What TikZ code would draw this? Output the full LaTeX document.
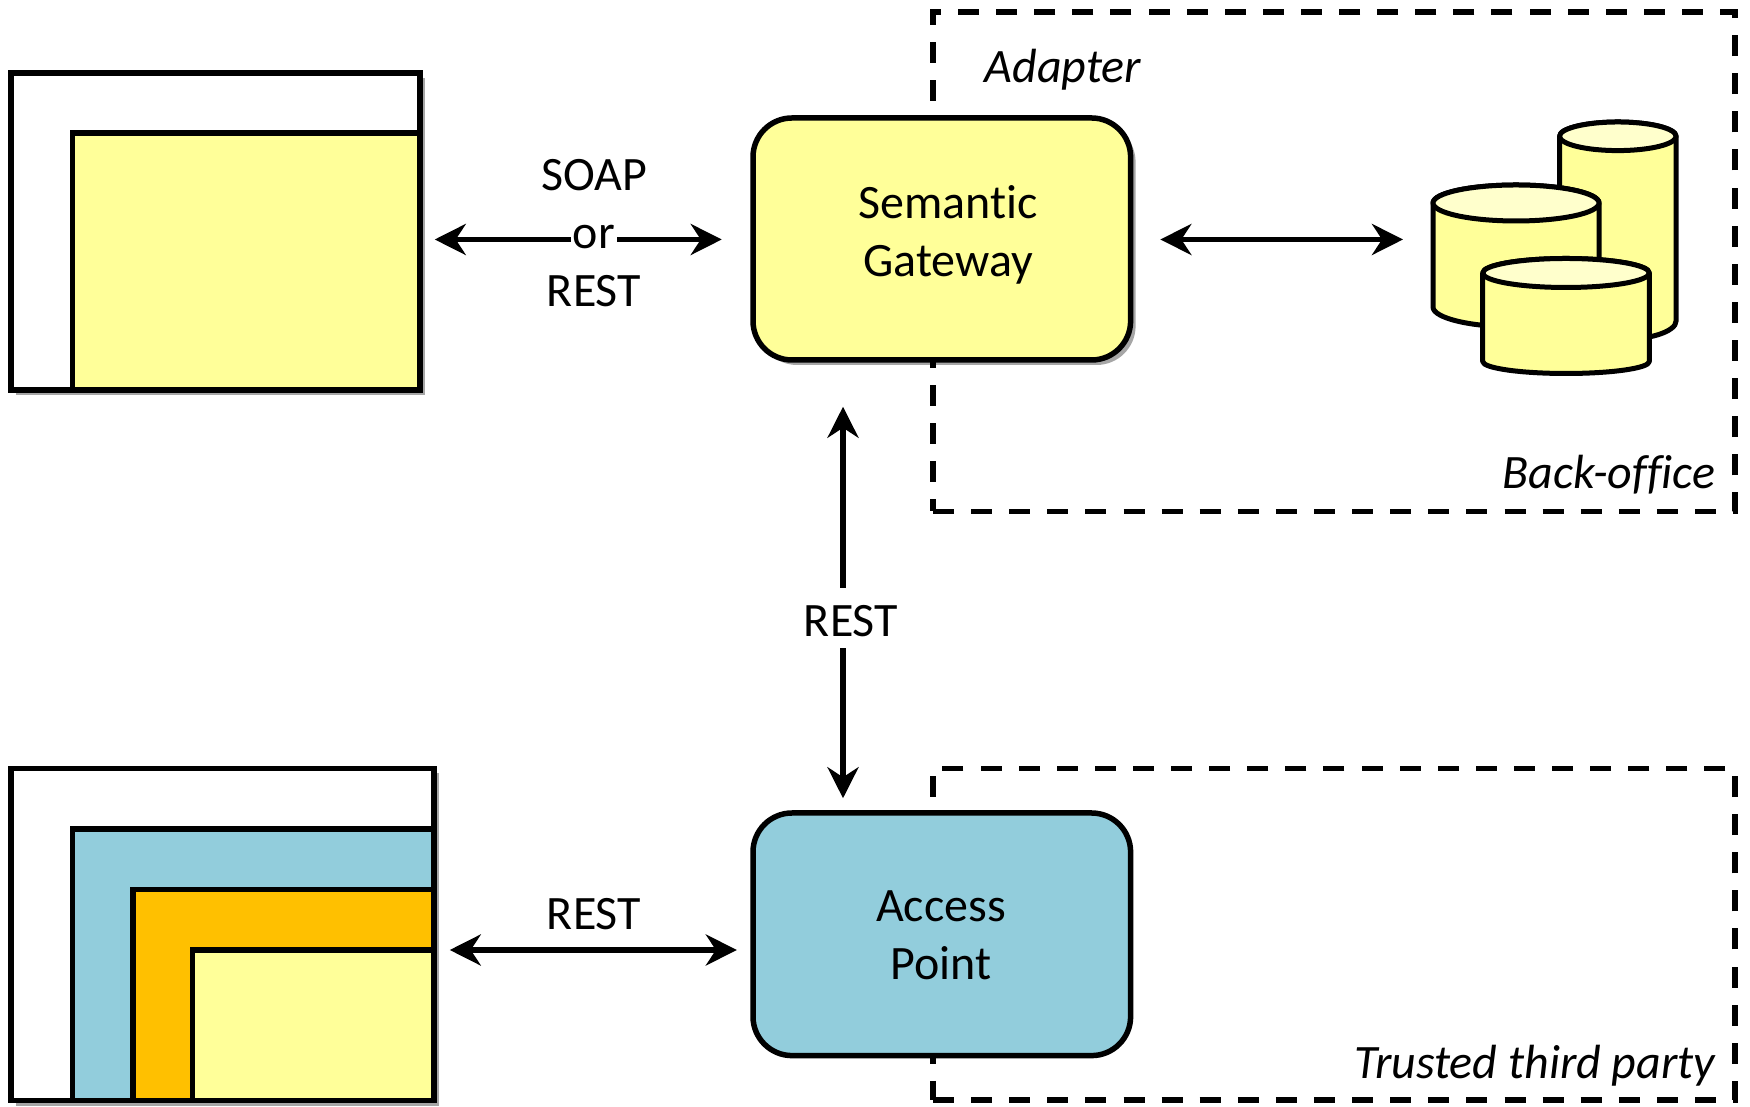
\documentclass[tikz,border=0pt]{standalone}
\usepackage{fontspec}
\setmainfont{Carlito}[Ligatures=NoCommon]
\usetikzlibrary{arrows.meta,shadows}
\definecolor{paleyellow}{HTML}{FFFF99}
\definecolor{lightyellow}{HTML}{FFFFCC}
\definecolor{paleblue}{HTML}{92CDDC}
\definecolor{amber}{HTML}{FFC000}
\tikzset{
  txt/.style={font=\fontsize{13.65}{16.5}\selectfont, align=center, inner sep=0pt},
  note/.style={font=\fontsize{13.65}{16.5}\selectfont\itshape, inner sep=0pt},
  winbox/.style={draw, line width=0.055cm, fill=#1, inner sep=0pt},
  softshadow/.style={drop shadow={shadow xshift=0.05cm, shadow yshift=-0.05cm, opacity=0.35, fill=black}},
  gatebox/.style={draw, line width=0.055cm, fill=#1, rounded corners=0.39cm, minimum width=3.776cm, minimum height=2.42cm},
  dashbox/.style={line width=0.055cm, dash pattern=on 0.21cm off 0.171cm},
  biarrow/.style={line width=0.055cm, {Stealth[length=0.31cm,width=0.31cm,inset=0.1cm]}-{Stealth[length=0.31cm,width=0.31cm,inset=0.1cm]}},
  dbline/.style={line width=0.05cm, line join=round}
}
% centre x, y of top ellipse, half width, top radius, y of wall end, bottom radius
\newcommand{\drum}[6]{
  \draw[dbline, fill=paleyellow] (#1-#3, #2) -- (#1-#3, #5) arc[start angle=180, end angle=360, x radius=#3, y radius=#6] -- (#1+#3, #2) arc[start angle=0, end angle=180, x radius=#3, y radius=#4] -- cycle;
  \draw[dbline, fill=lightyellow] (#1, #2) ellipse [x radius=#3, y radius=#4];
}
\begin{document}
\begin{tikzpicture}
\useasboundingbox (0,0) rectangle (17.5,11.06);

% Dashed zones, behind the boxes
\draw[dashbox] (9.33, 5.945) -- (17.35, 5.945) -- (17.35, 10.94) -- (9.33, 10.94) -- cycle;
\draw[dashbox] (9.33, 0.06) -- (17.35, 0.06) -- (17.35, 3.375) -- (9.33, 3.375) -- cycle;

% Top window
\node[winbox=white, softshadow, minimum width=4.09cm, minimum height=3.17cm] (clientwin) at (2.155, 8.745) {};
\node[winbox=paleyellow, minimum width=3.475cm, minimum height=2.57cm, anchor=south east] (clientpane) at (clientwin.south east) {};

% Bottom window
\node[winbox=white, softshadow, minimum width=4.23cm, minimum height=3.32cm] (portalwin) at (2.225, 1.715) {};
\node[winbox=paleblue, minimum width=3.615cm, minimum height=2.715cm, anchor=south east] (portalblue) at (portalwin.south east) {};
\node[winbox=amber, minimum width=3.01cm, minimum height=2.11cm, anchor=south east] (portalamber) at (portalwin.south east) {};
\node[winbox=paleyellow, minimum width=2.415cm, minimum height=1.505cm, anchor=south east] (portalyellow) at (portalwin.south east) {};

% Main boxes
\node[gatebox=paleyellow, softshadow] (gateway) at (9.418, 8.67) {};
\node[txt] (gatewaytxt) at (9.48, 8.71) {Semantic\\Gateway};
\node[gatebox=paleblue, minimum height=2.426cm] (access) at (9.418, 1.717) {};
\node[txt] (accesstxt) at (9.41, 1.71) {Access\\Point};

% Databases
\drum{16.178}{9.697}{0.5825}{0.143}{7.85}{0.19}
\drum{15.16}{9.03}{0.83}{0.18}{7.99}{0.2}
\drum{15.66}{8.33}{0.833}{0.145}{7.445}{0.12}
\coordinate (dbleft) at (14.33, 8.67);

% Arrows
\coordinate (restx) at (8.43, 5);
\coordinate (gatewayrow) at (5.94, 8.665);
\coordinate (accessrow) at (5.94, 1.56);
\draw[biarrow, shorten <=0.12cm, shorten >=0.285cm] (clientwin.east |- gatewayrow) -- (gateway.west |- gatewayrow);
\draw[biarrow, shorten <=0.27cm, shorten >=0.30cm] (gateway.east |- gatewayrow) -- (dbleft |- gatewayrow);
\draw[biarrow, shorten <=0.44cm, shorten >=0.12cm] (restx |- gateway.south) -- (restx |- access.north);
\draw[biarrow, shorten <=0.13cm, shorten >=0.134cm] (portalyellow.east |- accessrow) -- (access.west |- accessrow);

% Arrow labels
\node[txt, anchor=base] (soap) at (5.94, 9.15) {SOAP};
\node[txt, anchor=base, fill=white, minimum width=0.46cm] (orword) at (5.94, 8.575) {or};
\node[txt, anchor=base] (resttop) at (5.94, 7.99) {REST};
\node[txt, anchor=base, fill=white, text height=0.49cm, text depth=0.115cm] (restmid) at (8.51, 4.69) {REST};
\node[txt, anchor=base] (restlow) at (5.94, 1.76) {REST};

% Zone names
\node[note, anchor=base west] (adapter) at (9.84, 10.23) {Adapter};
\node[note, anchor=base east] (backoffice) at (17.16, 6.175) {Back-office};
\node[note, anchor=base east] (trusted) at (17.16, 0.28) {Trusted third party};
\end{tikzpicture}
\end{document}
